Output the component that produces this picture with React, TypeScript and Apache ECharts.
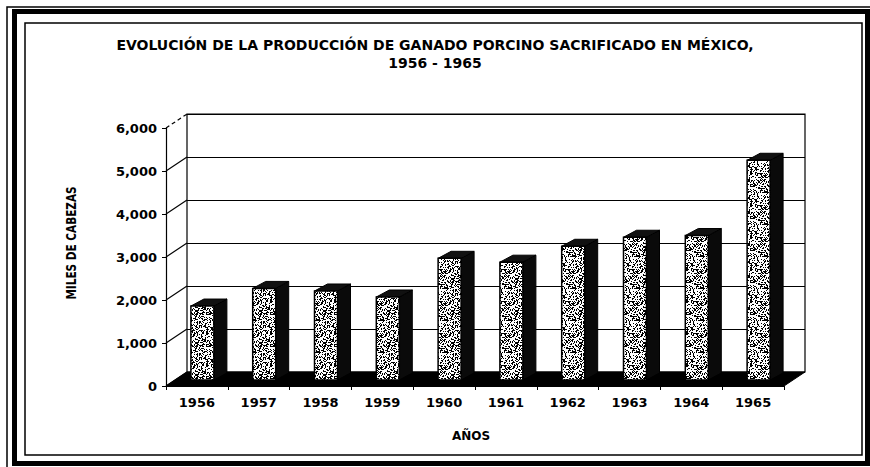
import React, { useEffect, useRef } from "react";
import * as echarts from "echarts";

const categories = ["1956", "1957", "1958", "1959", "1960", "1961", "1962", "1963", "1964", "1965"];
const production = [1720, 2130, 2070, 1930, 2830, 2740, 3110, 3320, 3360, 5110];
const yTicks = [0, 1000, 2000, 3000, 4000, 5000, 6000];
const titleLines = [
  "EVOLUCIÓN DE LA PRODUCCIÓN DE GANADO PORCINO SACRIFICADO EN MÉXICO,",
  "1956 - 1965",
];
const yAxisTitle = "MILES DE CABEZAS";
const xAxisTitle = "AÑOS";

const FONT = "'DejaVu Sans', 'Liberation Sans', sans-serif";
const DX = 21;
const DY = -14;

function makeSpeckle(): HTMLCanvasElement {
  const size = 32;
  const c = document.createElement("canvas");
  c.width = size;
  c.height = size;
  const ctx = c.getContext("2d")!;
  ctx.fillStyle = "#ffffff";
  ctx.fillRect(0, 0, size, size);
  ctx.fillStyle = "#000000";
  for (let y = 0; y < size; y++) {
    for (let x = 0; x < size; x++) {
      let h = (x * 374761393 + y * 668265263) | 0;
      h = Math.imul(h ^ (h >>> 13), 1274126177);
      h ^= h >>> 16;
      if ((h >>> 0) % 100 < 36) ctx.fillRect(x, y, 1, 1);
    }
  }
  return c;
}

export default function App() {
  const ref = useRef<HTMLDivElement>(null);

  useEffect(() => {
    if (!ref.current) return;
    const chart = echarts.init(ref.current, null, { renderer: "svg" });
    const speckle = makeSpeckle();

    const numFmt = (v: number) => v.toLocaleString("en-US");

    const option: any = {
      animation: false,
      backgroundColor: "#ffffff",
      title: {
        text: titleLines.join("\n"),
        left: "center",
        top: 36,
        padding: 0,
        textStyle: {
          fontFamily: FONT,
          fontSize: 14,
          fontWeight: "bold",
          lineHeight: 18,
          color: "#000",
        },
      },
      grid: [
        { left: 166, right: 86, top: 128, bottom: 81 },
        {
          left: 187,
          right: 65,
          top: 114,
          bottom: 95,
          show: true,
          borderColor: "#000",
          borderWidth: 1.2,
          backgroundColor: "transparent",
        },
      ],
      xAxis: [
        {
          gridIndex: 0,
          type: "category",
          data: categories,
          z: 6,
          axisLine: { lineStyle: { color: "#000", width: 1.2 } },
          axisTick: { show: true, length: 4, lineStyle: { color: "#000" } },
          axisLabel: {
            color: "#000",
            fontFamily: FONT,
            fontSize: 13,
            fontWeight: "bold",
            margin: 10,
          },
        },
        { gridIndex: 1, type: "category", data: categories, show: false },
      ],
      yAxis: [
        {
          gridIndex: 0,
          type: "value",
          min: 0,
          max: 6000,
          interval: 1000,
          axisLine: { show: true, lineStyle: { color: "#000", width: 1.2 } },
          axisTick: { show: true, length: 4, lineStyle: { color: "#000" } },
          axisLabel: {
            color: "#000",
            fontFamily: FONT,
            fontSize: 13,
            fontWeight: "bold",
            margin: 9,
            formatter: (v: number) => numFmt(v),
          },
          splitLine: { show: false },
        },
        {
          gridIndex: 1,
          type: "value",
          min: 0,
          max: 6000,
          interval: 1000,
          axisLine: { show: false },
          axisTick: { show: false },
          axisLabel: { show: false },
          splitLine: { show: true, lineStyle: { color: "#000", width: 1.2 } },
        },
      ],
      series: [
        {
          type: "custom",
          name: "wall",
          xAxisIndex: 0,
          yAxisIndex: 0,
          z: 1,
          silent: true,
          data: yTicks.map((v) => [0, v]),
          renderItem: (params: any, api: any) => {
            const v = api.value(1);
            const y = api.coord([0, v])[1];
            const x = params.coordSys.x;
            return {
              type: "line",
              shape: { x1: x, y1: y, x2: x + DX, y2: y + DY },
              style: {
                stroke: "#000",
                lineWidth: 1.2,
                lineDash: v === 6000 ? [4, 3] : null,
              },
            };
          },
        },
        {
          type: "custom",
          name: "floor",
          xAxisIndex: 0,
          yAxisIndex: 0,
          z: 2,
          silent: true,
          data: [[0, 0]],
          renderItem: (params: any, api: any) => {
            const cs = params.coordSys;
            const y0 = api.coord([0, 0])[1];
            return {
              type: "polygon",
              shape: {
                points: [
                  [cs.x, y0],
                  [cs.x + cs.width, y0],
                  [cs.x + cs.width + DX, y0 + DY],
                  [cs.x + DX, y0 + DY],
                ],
              },
              style: { fill: "#000", stroke: "#000", lineWidth: 1 },
            };
          },
        },
        {
          type: "custom",
          name: "Miles de cabezas",
          xAxisIndex: 0,
          yAxisIndex: 0,
          z: 3,
          data: production.map((v, i) => [i, v]),
          renderItem: (params: any, api: any) => {
            const i = api.value(0);
            const v = api.value(1);
            const base = api.coord([i, 0]);
            const top = api.coord([i, v]);
            const x0 = base[0] - 6;
            const x1 = base[0] + 17;
            const yb = base[1] - 6;
            const yt = top[1] - 6;
            const sx = 13;
            const sy = -7;
            return {
              type: "group",
              children: [
                {
                  type: "polygon",
                  shape: {
                    points: [
                      [x1, yb],
                      [x1 + sx, yb + sy],
                      [x1 + sx, yt + sy],
                      [x1, yt],
                    ],
                  },
                  style: { fill: "#0a0a0a", stroke: "#000", lineWidth: 1 },
                },
                {
                  type: "polygon",
                  shape: {
                    points: [
                      [x0, yt],
                      [x1, yt],
                      [x1 + sx, yt + sy],
                      [x0 + sx, yt + sy],
                    ],
                  },
                  style: { fill: "#111", stroke: "#000", lineWidth: 1 },
                },
                {
                  type: "rect",
                  shape: { x: x0, y: yt, width: x1 - x0, height: yb - yt },
                  style: {
                    fill: { image: speckle, repeat: "repeat" },
                    stroke: "#000",
                    lineWidth: 1.5,
                  },
                },
              ],
            };
          },
        },
      ],
      graphic: [
        {
          type: "rect",
          silent: true,
          shape: { x: 7, y: 7, width: 880, height: 480 },
          style: { fill: "none", stroke: "#000", lineWidth: 1.5 },
        },
        {
          type: "rect",
          silent: true,
          shape: { x: 14.5, y: 11.5, width: 853, height: 452 },
          style: { fill: "none", stroke: "#000", lineWidth: 5 },
        },
        {
          type: "rect",
          silent: true,
          shape: { x: 25, y: 23, width: 837, height: 432 },
          style: { fill: "none", stroke: "#000", lineWidth: 1.5 },
        },
        {
          type: "text",
          silent: true,
          x: 71,
          y: 243,
          rotation: Math.PI / 2,
          scaleX: 0.75,
          style: {
            text: yAxisTitle,
            fontFamily: FONT,
            fontSize: 14,
            fontWeight: "bold",
            fill: "#000",
            textAlign: "center",
            textVerticalAlign: "middle",
          },
        },
        {
          type: "text",
          silent: true,
          x: 471,
          y: 436,
          style: {
            text: xAxisTitle,
            fontFamily: FONT,
            fontSize: 12,
            fontWeight: "bold",
            fill: "#000",
            textAlign: "center",
            textVerticalAlign: "middle",
          },
        },
      ],
    };

    chart.setOption(option);
    return () => chart.dispose();
  }, []);

  return (
    <div
      ref={ref}
      style={{ position: "fixed", left: 0, top: 0, width: 870, height: 467 }}
    />
  );
}
